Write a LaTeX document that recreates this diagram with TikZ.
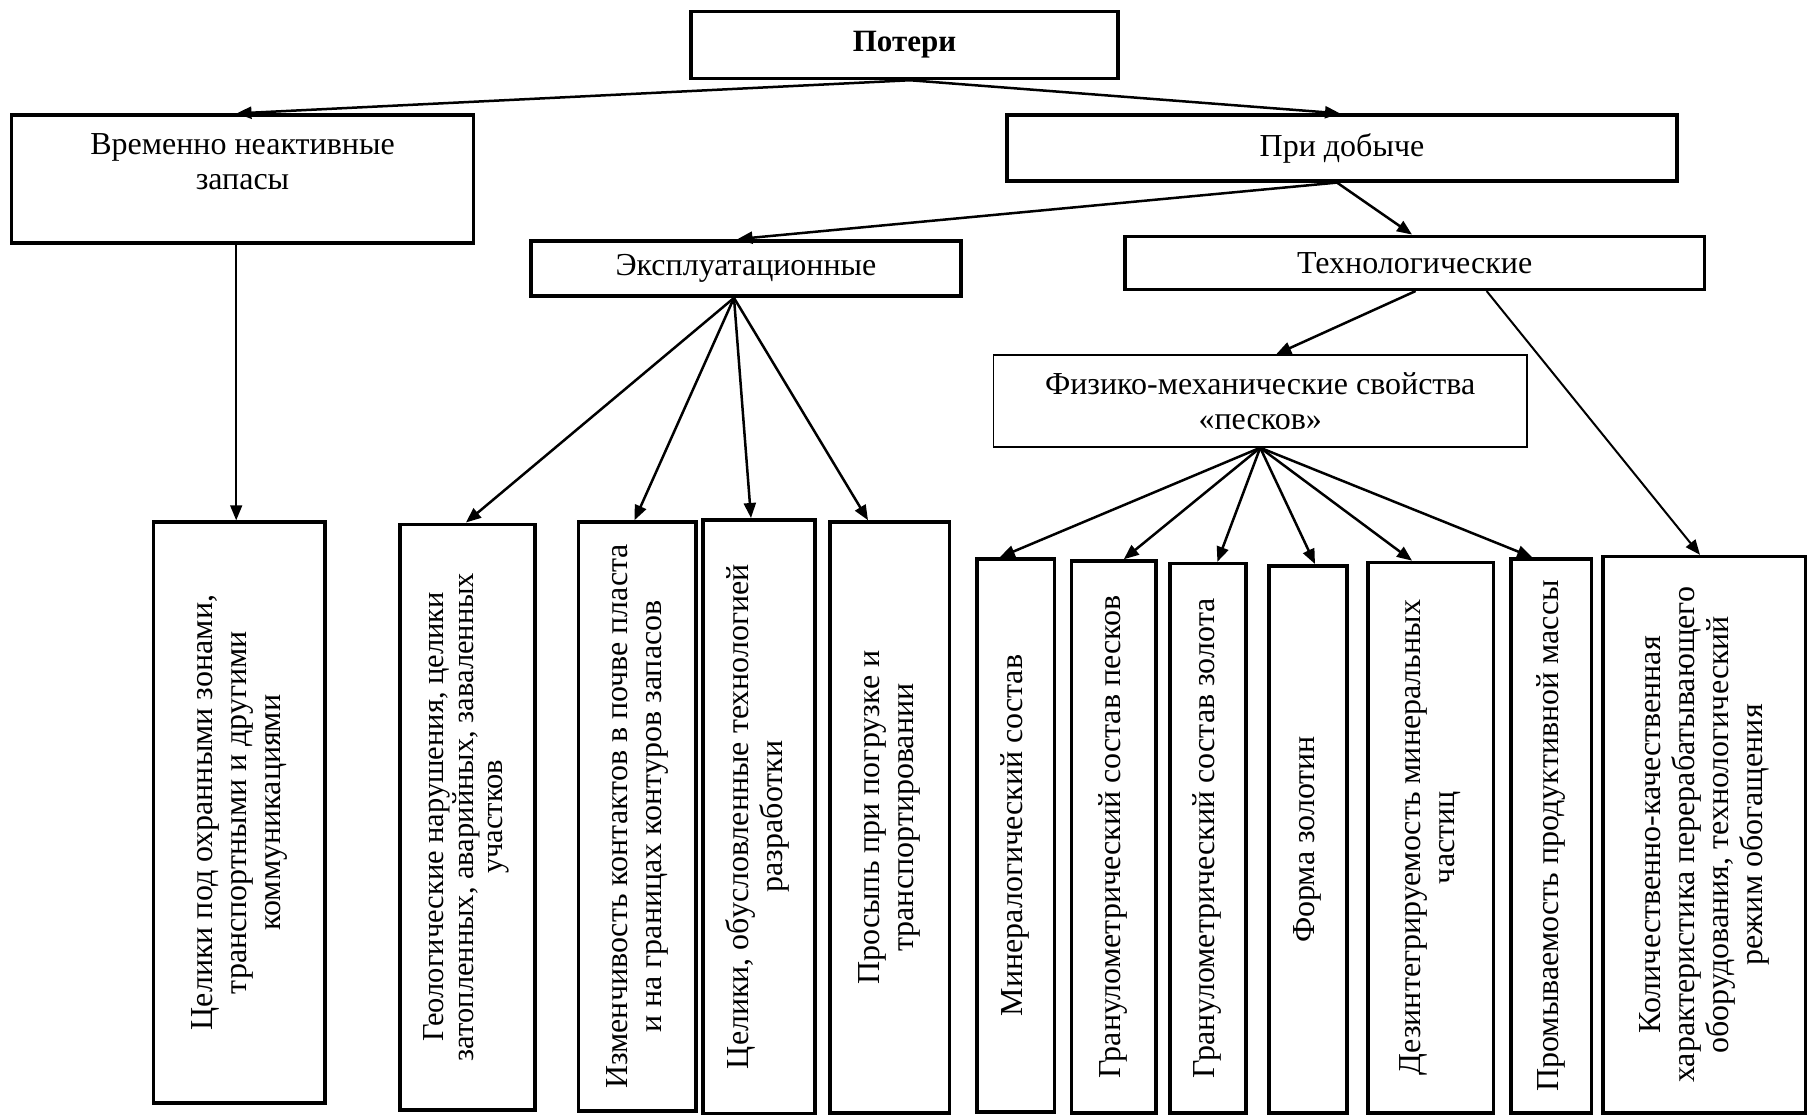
\documentclass[tikz,border=0pt]{standalone}
\usepackage{fontspec}
\setmainfont{Liberation Serif}
\usetikzlibrary{arrows.meta,calc}
\newcommand\rottext[1]{\rotatebox{90}{\begin{tabular}{@{}c@{}}#1\end{tabular}}}
\begin{document}
\begin{tikzpicture}[x=1pt,y=-1pt,
  box/.style={draw, line width=3.5pt, inner sep=0pt, align=center, font=\fontsize{32}{35}\selectfont},
  vbox/.style={draw, line width=3.5pt, inner sep=0pt, font=\fontsize{32}{34}\selectfont},
  arr/.style={line width=2.5pt, -{Triangle[length=15pt,width=12pt]}},
  tarr/.style={line width=1.6pt, -{Triangle[length=15pt,width=12pt]}},
]
\useasboundingbox (0,0) rectangle (1807,1115);

% upper level
\node[box, minimum width=427pt, minimum height=67pt, font=\bfseries\fontsize{31}{35}\selectfont] (potery) at (904.5,45) {Потери};
\node[box, minimum width=462pt, minimum height=128pt] (vrem) at (242.5,179.2)
  {\raisebox{14pt}[\height][\depth]{\begin{tabular}{@{}c@{}}Временно неактивные\\запасы\end{tabular}}};
\node[box, minimum width=670pt, minimum height=65.7pt] (pri) at (1342,148) {При добыче};
\node[box, minimum width=430pt, minimum height=55.3pt] (exp) at (746,268.5) {\raisebox{-3pt}{Эксплуатационные}};
\node[box, minimum width=579.6pt, minimum height=53pt] (tech) at (1414.6,262.8) {Технологические};
\node[box, line width=1.5pt, minimum width=533.6pt, minimum height=92pt] (fiz) at (1260.2,401) {Физико-механические свойства\\«песков»};

% bottom level
\node[vbox, minimum width=171.7pt, minimum height=580.9pt] (b1) at (239.2,812.5)
  {\rottext{Целики под охранными зонами,\\транспортными и другими\\коммуникациями}};
\node[vbox, minimum width=134.7pt, minimum height=585.5pt, font=\fontsize{30.5}{29}\selectfont] (b2) at (467.4,817)
  {\rottext{Геологические нарушения, целики\\затопленных, аварийных, заваленных\\участков}};
\node[vbox, minimum width=117.5pt, minimum height=589pt] (b3) at (637.3,816.5)
  {\rottext{Изменчивость контактов в почве пласта\\и на границах контуров запасов}};
\node[vbox, minimum width=111.7pt, minimum height=593.5pt] (b4) at (758.9,816.5)
  {\rottext{Целики, обусловленные технологией\\разработки}};
\node[vbox, minimum width=119.9pt, minimum height=591.2pt] (b5) at (889.7,817.6)
  {\rottext{Просыпь при погрузке и\\транспортировании}};
\node[vbox, minimum width=77.2pt, minimum height=553pt] (b6) at (1015.8,835.5)
  {\rottext{Минералогический состав}};
\node[vbox, minimum width=84.2pt, minimum height=552pt] (b7) at (1113.8,837)
  {\rottext{Гранулометрический состав песков}};
\node[vbox, minimum width=76.1pt, minimum height=549.5pt] (b8) at (1207.8,838.3)
  {\rottext{Гранулометрический состав золота}};
\node[vbox, minimum width=78.4pt, minimum height=547.2pt] (b9) at (1308,839.4)
  {\rottext{Форма золотин}};
\node[vbox, minimum width=125.6pt, minimum height=550.6pt] (b10) at (1430.7,837.7)
  {\rottext{Дезинтегрируемость минеральных\\частиц}};
\node[vbox, minimum width=80.7pt, minimum height=554pt] (b11) at (1551.2,836)
  {\rottext{Промываемость продуктивной массы}};
\node[vbox, minimum width=203pt, minimum height=556.4pt] (b12) at (1704.5,834.8)
  {\rottext{Количественно-качественная\\характеристика перерабатывающего\\оборудования, технологический\\режим обогащения}};

% connectors
\draw[arr] ([xshift=5.5pt]potery.south) -- ([xshift=-6pt]vrem.north);
\draw[arr] ([xshift=5.5pt]potery.south) -- ([xshift=-2pt]pri.north);
\draw[arr] ([xshift=-5pt]pri.south) -- ([xshift=-8.5pt]exp.north);
\draw[arr] ([xshift=-5pt]pri.south) -- ([xshift=-2.6pt]tech.north);
\draw[tarr] ([xshift=-3pt]b1.north |- vrem.south) -- ([xshift=-3pt]b1.north);

\draw[arr] ([xshift=-12pt]exp.south) -- ([xshift=-1.4pt]b2.north);
\draw[arr] ([xshift=-12pt]exp.south) -- ([xshift=-2.8pt]b3.north);
\draw[arr] ([xshift=-12pt]exp.south) -- ([xshift=-7.9pt]b4.north);
\draw[arr] ([xshift=-12pt]exp.south) -- ([xshift=-21.7pt]b5.north);

\draw[arr] ([xshift=1pt]tech.south) -- ([xshift=16pt]fiz.north);
\draw[tarr, line width=2pt] ([xshift=72pt]tech.south) -- ([xshift=-4.5pt]b12.north);

\draw[arr] (fiz.south) -- ([xshift=-16pt]b6.north);
\draw[arr] (fiz.south) -- ([xshift=10pt]b7.north);
\draw[arr] (fiz.south) -- ([xshift=9.6pt]b8.north);
\draw[arr] (fiz.south) -- ([xshift=7pt]b9.north);
\draw[arr] (fiz.south) -- ([xshift=-18.7pt]b10.north);
\draw[arr] (fiz.south) -- ([xshift=-19pt]b11.north);
\end{tikzpicture}
\end{document}
